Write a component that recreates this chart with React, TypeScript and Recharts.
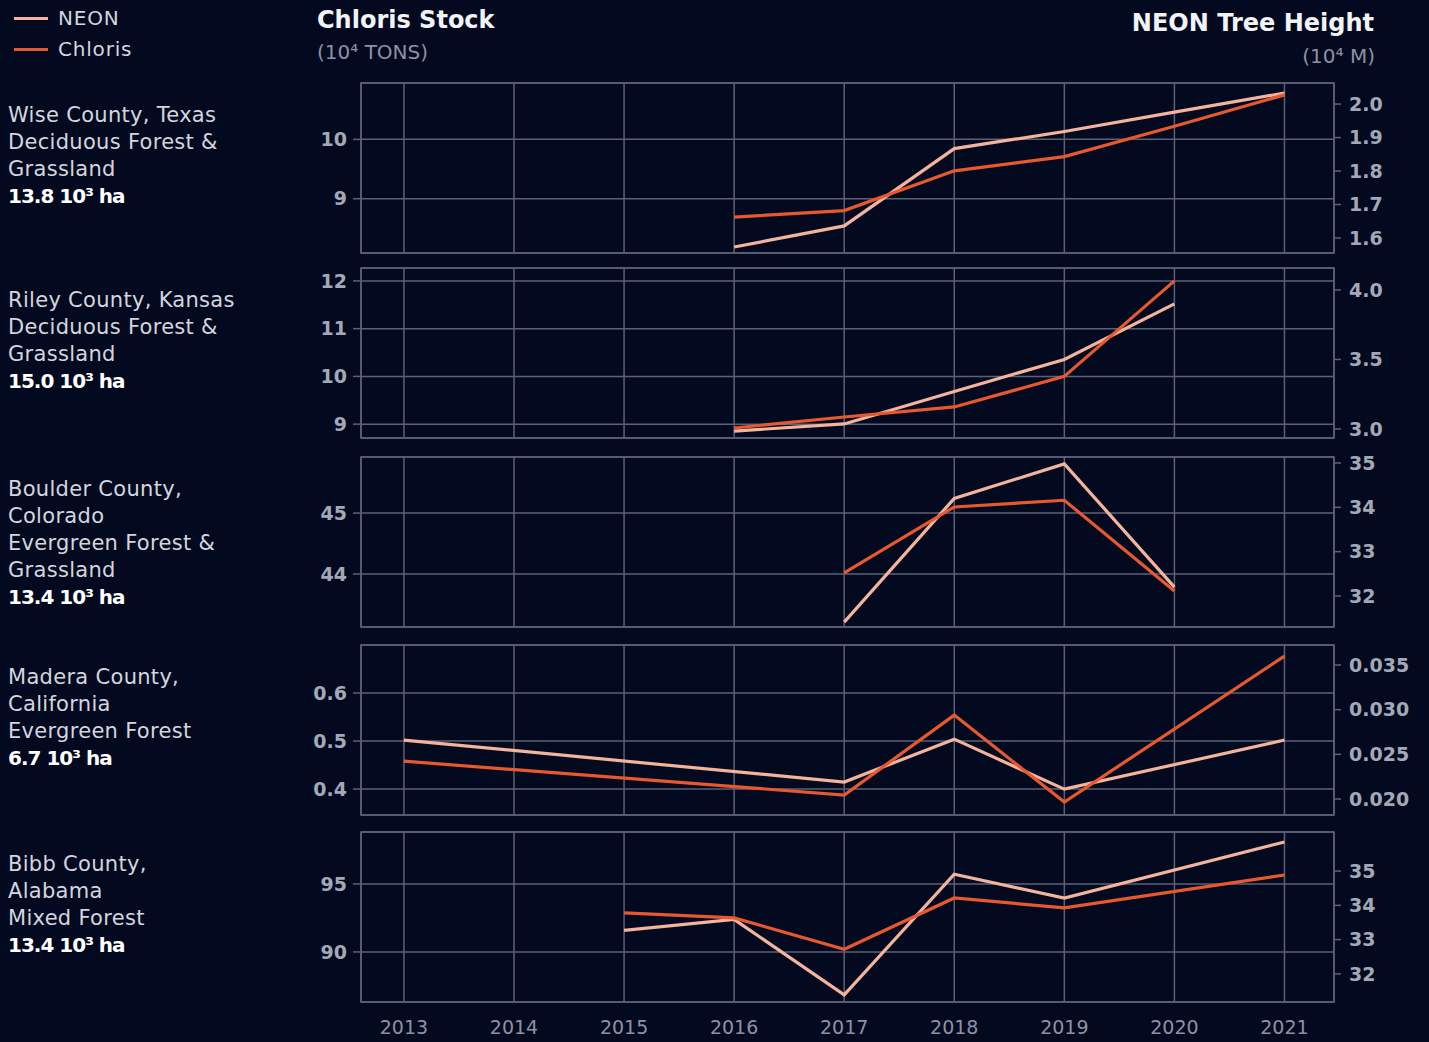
import React from "react";
import {
  LineChart,
  Line,
  XAxis,
  YAxis,
  CartesianGrid,
  ReferenceArea,
} from "recharts";

const years = [2013, 2014, 2015, 2016, 2017, 2018, 2019, 2020, 2021];

// Chloris stock (left axis, 10^4 tons) and NEON tree height (right axis, 10^4 m)
const wiseChloris = [null, null, null, 8.69, 8.8, 9.47, 9.71, 10.22, 10.75];
const wiseNeon = [null, null, null, 1.573, 1.636, 1.867, 1.918, 1.976, 2.033];

const rileyChloris = [null, null, null, 8.92, 9.15, 9.36, 10.0, 12.0, null];
const rileyNeon = [null, null, null, 2.985, 3.036, 3.27, 3.5, 3.9, null];

const boulderChloris = [null, null, null, null, 44.02, 45.1, 45.21, 43.72, null];
const boulderNeon = [null, null, null, null, 31.41, 34.2, 34.98, 32.2, null];

const maderaChloris = [0.458, null, null, null, 0.3875, 0.554, 0.373, null, 0.677];
const maderaNeon = [0.0266, null, null, null, 0.0219, 0.0267, 0.0211, null, 0.0266];

const bibbChloris = [null, null, 92.87, 92.5, 90.2, 93.97, 93.24, null, 95.66];
const bibbNeon = [null, null, 33.27, 33.59, 31.39, 34.91, 34.21, null, 35.85];

const wiseLeftTicks = [9, 10];
const wiseRightTicks = [1.6, 1.7, 1.8, 1.9, 2.0];
const rileyLeftTicks = [9, 10, 11, 12];
const rileyRightTicks = [3.0, 3.5, 4.0];
const boulderLeftTicks = [44, 45];
const boulderRightTicks = [32, 33, 34, 35];
const maderaLeftTicks = [0.4, 0.5, 0.6];
const maderaRightTicks = [0.02, 0.025, 0.03, 0.035];
const bibbLeftTicks = [90, 95];
const bibbRightTicks = [32, 33, 34, 35];

const BG = "#030a20";
const GRID = "#5c6274";
const NEON_COLOR = "#f4b39d";
const CHLORIS_COLOR = "#e8582f";
const TICK_COLOR = "#a3a8b6";
const FONT = "'DejaVu Sans', 'Open Sans', sans-serif";

const X_DOMAIN: [number, number] = [2012.61, 2021.45];
const PANEL_H = 170;
const PAD = 15;

type Panel = {
  lines: string[];
  area: string;
  top: number;
  chloris: (number | null)[];
  neon: (number | null)[];
  leftTicks: number[];
  rightTicks: number[];
  leftDomain: [number, number];
  rightDomain: [number, number];
  leftDigits: number;
  rightDigits: number;
};

const panels: Panel[] = [
  {
    lines: ["Wise County, Texas", "Deciduous Forest &", "Grassland"],
    area: "13.8 10³ ha",
    top: 83,
    chloris: wiseChloris,
    neon: wiseNeon,
    leftTicks: wiseLeftTicks,
    rightTicks: wiseRightTicks,
    leftDomain: [8.085, 10.95],
    rightDomain: [1.555, 2.063],
    leftDigits: 0,
    rightDigits: 1,
  },
  {
    lines: ["Riley County, Kansas", "Deciduous Forest &", "Grassland"],
    area: "15.0 10³ ha",
    top: 268,
    chloris: rileyChloris,
    neon: rileyNeon,
    leftTicks: rileyLeftTicks,
    rightTicks: rileyRightTicks,
    leftDomain: [8.71, 12.27],
    rightDomain: [2.935, 4.158],
    leftDigits: 0,
    rightDigits: 1,
  },
  {
    lines: ["Boulder County,", "Colorado", "Evergreen Forest &", "Grassland"],
    area: "13.4 10³ ha",
    top: 457,
    chloris: boulderChloris,
    neon: boulderNeon,
    leftTicks: boulderLeftTicks,
    rightTicks: boulderRightTicks,
    leftDomain: [43.13, 45.92],
    rightDomain: [31.3, 35.135],
    leftDigits: 0,
    rightDigits: 0,
  },
  {
    lines: ["Madera County,", "California", "Evergreen Forest"],
    area: "6.7 10³ ha",
    top: 645,
    chloris: maderaChloris,
    neon: maderaNeon,
    leftTicks: maderaLeftTicks,
    rightTicks: maderaRightTicks,
    leftDomain: [0.346, 0.7],
    rightDomain: [0.01821, 0.03724],
    leftDigits: 1,
    rightDigits: 3,
  },
  {
    lines: ["Bibb County,", "Alabama", "Mixed Forest"],
    area: "13.4 10³ ha",
    top: 832,
    chloris: bibbChloris,
    neon: bibbNeon,
    leftTicks: bibbLeftTicks,
    rightTicks: bibbRightTicks,
    leftDomain: [86.32, 98.82],
    rightDomain: [31.18, 36.14],
    leftDigits: 0,
    rightDigits: 0,
  },
];

function PanelChart({ p, last }: { p: Panel; last: boolean }) {
  const data = years.map((year, i) => ({
    year,
    chloris: p.chloris[i],
    neon: p.neon[i],
  }));
  const xAxisH = 40;
  return (
    <div style={{ position: "absolute", left: 0, top: p.top - PAD }}>
      <LineChart
        width={1429}
        height={PANEL_H + PAD + (last ? xAxisH : PAD)}
        data={data}
        margin={{ top: PAD, right: 0, bottom: last ? 0 : PAD, left: 0 }}
      >
        <CartesianGrid stroke={GRID} strokeWidth={1.5} yAxisId="left" />
        <XAxis
          dataKey="year"
          type="number"
          domain={X_DOMAIN}
          ticks={years}
          interval={0}
          allowDataOverflow
          hide={!last}
          height={xAxisH}
          axisLine={false}
          tickLine={false}
          tickMargin={13}
          tick={{ fill: "#8d92a2", fontSize: 19, fontFamily: FONT }}
        />
        <YAxis
          yAxisId="left"
          orientation="left"
          width={361}
          domain={p.leftDomain}
          ticks={p.leftTicks}
          interval={0}
          allowDataOverflow
          axisLine={false}
          tickSize={8}
          tickMargin={6}
          tickLine={{ stroke: GRID, strokeWidth: 1.5 }}
          tickFormatter={(v: number) => v.toFixed(p.leftDigits)}
          tick={{ fill: TICK_COLOR, fontSize: 19, fontWeight: 700, fontFamily: FONT }}
        />
        <YAxis
          yAxisId="right"
          orientation="right"
          width={95}
          domain={p.rightDomain}
          ticks={p.rightTicks}
          interval={0}
          allowDataOverflow
          axisLine={false}
          tickSize={7}
          tickMargin={8}
          tickLine={{ stroke: GRID, strokeWidth: 1.5 }}
          tickFormatter={(v: number) => v.toFixed(p.rightDigits)}
          tick={{ fill: TICK_COLOR, fontSize: 19, fontWeight: 700, fontFamily: FONT }}
        />
        <ReferenceArea
          yAxisId="left"
          x1={X_DOMAIN[0]}
          x2={X_DOMAIN[1]}
          y1={p.leftDomain[0]}
          y2={p.leftDomain[1]}
          fill="none"
          stroke={GRID}
          strokeWidth={1.5}
        />
        <Line
          yAxisId="right"
          dataKey="neon"
          stroke={NEON_COLOR}
          strokeWidth={3.2}
          dot={false}
          connectNulls
          isAnimationActive={false}
        />
        <Line
          yAxisId="left"
          dataKey="chloris"
          stroke={CHLORIS_COLOR}
          strokeWidth={3.2}
          dot={false}
          connectNulls
          isAnimationActive={false}
        />
      </LineChart>
    </div>
  );
}

export default function App() {
  return (
    <div
      style={{
        position: "absolute",
        left: 0,
        top: 0,
        width: 1429,
        height: 1042,
        background: BG,
        fontFamily: FONT,
        overflow: "hidden",
      }}
    >
      {/* legend */}
      <div style={{ position: "absolute", left: 14, top: 3, fontSize: 20, color: "#d4d6de", lineHeight: "31px", letterSpacing: 0.8 }}>
        <div style={{ display: "flex", alignItems: "center" }}>
          <span style={{ width: 34, height: 3, background: NEON_COLOR, marginRight: 10 }} />
          NEON
        </div>
        <div style={{ display: "flex", alignItems: "center" }}>
          <span style={{ width: 34, height: 3, background: CHLORIS_COLOR, marginRight: 10 }} />
          Chloris
        </div>
      </div>

      {/* titles */}
      <div style={{ position: "absolute", left: 317, top: 6, fontSize: 24, fontWeight: 700, color: "#f2f3f6" }}>
        Chloris Stock
      </div>
      <div style={{ position: "absolute", left: 317, top: 40, fontSize: 20, color: "#8d92a2" }}>
        (10⁴ TONS)
      </div>
      <div
        style={{ position: "absolute", right: 1429 - 1374, top: 9, fontSize: 24, fontWeight: 700, color: "#f2f3f6" }}
      >
        NEON Tree Height
      </div>
      <div style={{ position: "absolute", right: 1429 - 1375, top: 44, fontSize: 20, color: "#8d92a2" }}>
        (10⁴ M)
      </div>

      {panels.map((p, i) => (
        <React.Fragment key={p.area + i}>
          <div
            style={{
              position: "absolute",
              left: 8,
              top: p.top + 19,
              fontSize: 21,
              lineHeight: "27px",
              color: "#d4d6de",
              letterSpacing: 0.3,
            }}
          >
            {p.lines.map((l) => (
              <div key={l}>{l}</div>
            ))}
            <div style={{ fontWeight: 700, fontSize: 20, color: "#ffffff", letterSpacing: -1 }}>{p.area}</div>
          </div>
          <PanelChart p={p} last={i === panels.length - 1} />
        </React.Fragment>
      ))}
    </div>
  );
}
